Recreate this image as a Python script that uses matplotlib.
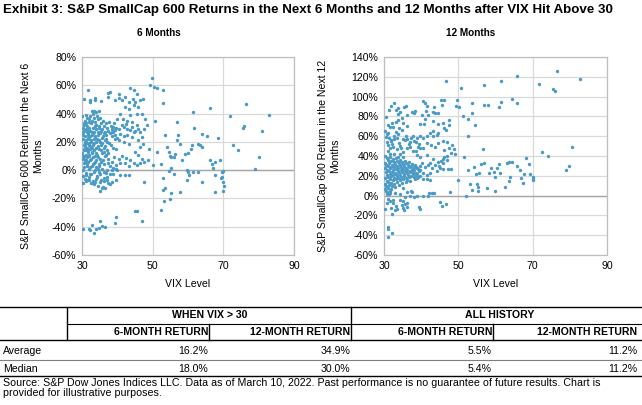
import numpy as np
import matplotlib
matplotlib.use("Agg")
import matplotlib.pyplot as plt
from matplotlib.lines import Line2D
from matplotlib.ticker import FuncFormatter

plt.rcParams['font.family'] = ['Liberation Sans', 'DejaVu Sans']

# ---- scatter data: (VIX level, forward return %) ----
six_pts = [
    # dense cluster, VIX 30-40
    (30.1, 38), (30.4, 30), (30.2, 25), (30.5, 18), (30.1, 12), (30.3, 8), (30.6, 5), (30.2, 0), (30.4, -4), (30.1, -9), (30.3, 22), (30.5, 15),
    (30.8, 35), (30.6, 28), (30.9, 20), (30.7, 14), (30.5, 10), (30.8, 6), (30.6, 2), (30.9, -6), (30.7, 32), (30.9, 24),
    (31.2, 39), (31.0, 33), (31.3, 27), (31.1, 21), (30.9, 17), (31.2, 11), (31.0, 7), (31.3, 3), (31.1, -2), (31.2, -8), (31.0, 29),
    (31.5, 37), (31.3, 31), (31.6, 25), (31.4, 19), (31.7, 13), (31.5, 9), (31.3, 4), (31.6, -7), (31.4, 16), (31.7, 23),
    (31.9, 36), (32.0, 30), (31.8, 26), (32.1, 22), (31.9, 18), (31.7, 14), (32.0, 10), (31.8, 6), (32.1, 1), (31.9, -5),
    (32.3, 38), (32.1, 34), (32.4, 28), (32.2, 24), (32.5, 20), (32.3, 15), (32.1, 11), (32.4, 7), (32.2, 2), (32.5, -9), (32.3, 17),
    (32.7, 42), (32.5, 33), (32.8, 27), (32.6, 21), (32.9, 16), (32.7, 12), (32.5, 8), (32.8, 3), (32.6, -3), (32.9, 25),
    (33.1, 40), (32.9, 35), (33.2, 30), (33.0, 26), (33.3, 22), (33.1, 18), (32.9, 13), (33.2, 9), (33.0, 4), (33.3, -1), (33.1, -8),
    (33.5, 42), (33.3, 37), (33.6, 31), (33.4, 27), (33.7, 23), (33.5, 19), (33.3, 14), (33.6, 10), (33.4, 5), (33.7, 0), (33.5, -10),
    (33.9, 41), (33.7, 34), (34.0, 29), (33.8, 24), (34.1, 20), (33.9, 16), (34.0, 12), (33.8, 6), (34.1, 2), (33.9, -6),
    (34.3, 38), (34.1, 32), (34.4, 27), (34.2, 22), (34.5, 17), (34.3, 11), (34.1, 7), (34.4, 1), (34.2, -4),
    (34.7, 42), (34.5, 36), (34.8, 30), (34.6, 25), (34.9, 21), (34.7, 15), (34.5, 9), (34.8, 4), (34.6, -11),
    (35.1, 37), (34.9, 31), (35.2, 26), (35.0, 20), (35.3, 14), (35.1, 8), (34.9, 3), (35.2, -3),
    (35.5, 33), (35.3, 28), (35.6, 23), (35.4, 18), (35.7, 12), (35.5, 6), (35.3, -7),
    (35.9, 35), (35.7, 29), (36.0, 24), (35.8, 19), (36.1, 13), (35.9, 7), (35.7, 1), (36.0, -12),
    (36.3, 31), (36.1, 26), (36.4, 21), (36.2, 16), (36.5, 10), (36.3, 4), (36.1, -8),
    (36.7, 33), (36.5, 27), (36.8, 22), (36.6, 17), (36.9, 11), (36.7, -2),
    (37.1, 30), (36.9, 25), (37.2, 20), (37.0, 14), (37.3, 8), (37.1, -5),
    (37.6, 34), (37.4, 28), (37.7, 19), (37.5, 12), (37.3, 5),
    (38.1, 31), (37.9, 26), (38.2, 18), (38.0, 3), (37.8, -10),
    (38.6, 29), (38.4, 24), (38.7, 16), (38.5, 6),
    (39.1, 33), (38.9, 27), (39.2, 22), (39.0, 9), (38.8, -3),
    (39.6, 30), (39.4, 25), (39.7, 15), (39.5, 1),
    (30.3, 27), (30.8, 19), (31.2, 14), (30.5, 33), (31.6, 28), (32.0, 19), (30.2, 10), (30.7, 8),
    # upper points, VIX 30-48
    (31.6, 57), (30.7, 50.6), (32.4, 48.2), (32.4, 49.4), (33.6, 51.3), (33.8, 49.4), (35.4, 48.9), (37.3, 54.6),
    (38.0, 55.3), (37.5, 51.8), (39.4, 49.4), (40.4, 53.6), (40.6, 51.3), (41.3, 49.9), (42.2, 51.8), (43.2, 48.2),
    (43.6, 58.4), (44.6, 56.5), (45.5, 54.1), (44.4, 50.6), (45.1, 48.2), (46.5, 49.9), (47.4, 50.6), (45.9, 44.7),
    (44.6, 45.9), (43.2, 43.5), (42.2, 44.7), (40.8, 40), (39.9, 36.5), (41.6, 36.5), (43.5, 38.8), (45.5, 40),
    (46.9, 40), (47.8, 36.5), (48.4, 31.8), (47.6, 29.4), (46.5, 27), (46.9, 23.5), (45.9, 21.2), (47.4, 18.8),
    (46.5, 16.5), (45.1, 12.9), (45.8, 10.6), (46.9, 8.2), (47.6, 5.9), (46.5, 4.7), (48.8, 7.5), (45.5, 3.5),
    (44.6, 5.4), (43.6, 7.1), (43.2, 3.1), (42.2, 4.7), (42.5, 8.9), (41.3, 10.1), (40.4, 8.2), (40.8, 5.4),
    (39.7, 3.5), (38.9, 1.2), (40.0, 0), (40.8, -3.5), (42.2, -3.5), (43.2, -3.5), (39.5, -7), (38.5, -8.2),
    (37.1, -7), (37.5, -9.4), (36.1, -5.9), (35.2, -8.2), (35.2, -14.6), (35.7, -12.9), (36.6, -12.9), (33.8, -8.2),
    (32.8, -9.4), (31.9, -7), (31.0, -7), (30.3, -9.4), (31.2, -3.5), (32.4, -2.4), (34.2, -4.7), (34.7, -1.2),
    (36.1, -1.2), (37.1, 0), (38.0, -2.4), (38.5, 0), (47.5, -8.7),
    (41.3, 31.8), (41.8, 30.6), (42.7, 29.4), (42.5, 32.9), (43.6, 28.2), (44.1, 30.6), (45.1, 27.8), (45.5, 31.8),
    (44.1, 23.5), (42.7, 24.7), (41.8, 24), (40.8, 25.9), (40.4, 29.4), (39.4, 28.2), (38.9, 30.6), (38.5, 27),
    (39.9, 22.4), (40.6, 21.2), (41.9, 20), (43.2, 18.8), (44.6, 27), (45.9, 29.4), (44.1, 34.1), (42.7, 34.8),
    # VIX above 48
    (49.8, 65.4), (49.3, 60), (50.4, 58.8), (51.2, 58), (52.8, 57), (52.8, 47.8), (50.8, 34.8), (51.2, 12.9),
    (50.0, 3.5), (49.1, 15.3), (52.5, 4.5), (53.5, 24.7), (54.0, 16.5), (54.5, 13), (55.0, 10), (55.2, 9.4),
    (56.0, 9.4), (56.3, 11.3), (56.8, 21.6), (57.3, 24.7), (57.0, 34), (57.7, 18.8), (58.3, 7.5), (59.2, 11.3),
    (60.1, 12.2), (60.8, 14.6), (61.0, 17.6), (61.5, 41.4), (61.8, 30.1), (62.7, 18.4), (63.4, 17.6), (64.0, 25.9),
    (65.5, 24.2), (66.1, 44.2), (64.0, 16.5), (60.1, -1.2), (59.7, 0), (61.5, -1.2), (62.9, -1.6),
    (60.3, -3.5), (59.8, -7), (64.0, -8.5), (66.3, 7), (66.7, 4.2), (67.0, 1.2), (67.7, 5.9), (69.0, 7.5),
    (68.5, 22.8), (67.7, -3.5), (67.7, -15.8), (69.5, -4.7), (69.7, -1.2), (70.0, -0.5), (69.8, -8.2), (70.0, -14.6),
    (70.2, -11.3), (69.3, -5.9), (71.9, 38.1), (72.7, 18.1), (74.2, 13.9), (75.5, 29.6), (75.9, 31), (76.4, 47),
    (80.2, 9.4), (79.1, 0.5), (81.0, 27.5), (82.8, 39.3),
    (52.3, -28.5), (53.2, -21.9), (53.5, -12.5), (53.0, -14.1), (55.0, -20.5), (55.2, -16), (57.6, -15.8),
    (53.0, -5.9), (55.2, 1.2), (56.0, -2.4), (54.5, -0.9),
    # the low band
    (45.1, -28.7), (45.6, -29.2), (46.9, -36), (39.5, -33.4), (39.3, -37.2), (35.2, -36), (35.7, -39.3), (36.4, -40),
    (34.7, -41.2), (34.0, -41.9), (33.3, -44.7), (32.8, -38.8), (31.9, -41.9), (32.4, -42.4), (30.4, -41.9),
]

twelve_pts = [
    # dense cluster, VIX 30-40
    (30.2, 40), (30.4, 33), (30.3, 28), (30.5, 24), (30.2, 18), (30.4, 12), (30.3, 7),
    (30.8, 38), (30.6, 31), (30.9, 26), (30.7, 21), (30.8, 15), (30.6, 10), (30.9, 4),
    (31.2, 36), (31.0, 30), (31.3, 25), (31.1, 19), (31.2, 14), (31.0, 8), (31.3, 2),
    (31.6, 39), (31.4, 33), (31.7, 28), (31.5, 22), (31.6, 17), (31.4, 11), (31.7, 5),
    (32.0, 35), (31.8, 29), (32.1, 24), (31.9, 20), (32.0, 13), (31.8, 7),
    (32.4, 37), (32.2, 31), (32.5, 26), (32.3, 21), (32.4, 16), (32.2, 10),
    (32.8, 34), (32.6, 29), (32.9, 23), (32.7, 18), (32.8, 12),
    (33.2, 38), (33.0, 32), (33.3, 27), (33.1, 22), (33.2, 17), (33.0, 9),
    (33.6, 35), (33.4, 30), (33.7, 25), (33.5, 20), (33.6, 14),
    (34.0, 33), (33.8, 28), (34.1, 23), (33.9, 18), (34.0, 11),
    (34.4, 36), (34.2, 31), (34.5, 26), (34.3, 21), (34.4, 16),
    (34.8, 34), (34.6, 29), (34.9, 24), (34.7, 19), (34.8, 13),
    (35.2, 32), (35.0, 27), (35.3, 22), (35.1, 17), (35.2, 8),
    (35.6, 35), (35.4, 30), (35.7, 25), (35.5, 20),
    (36.0, 33), (35.8, 28), (36.1, 23), (35.9, 18), (36.0, 14),
    (36.4, 31), (36.2, 26), (36.5, 21), (36.3, 16),
    (36.8, 34), (36.6, 29), (36.9, 24), (36.7, 19),
    (37.2, 30), (37.0, 25), (37.3, 20), (37.1, 15),
    (37.6, 32), (37.4, 27), (37.7, 22),
    (38.0, 29), (37.8, 24), (38.1, 19),
    (38.4, 31), (38.2, 26), (38.5, 21), (38.3, 17),
    (38.8, 28), (38.6, 23), (38.9, 18),
    (39.2, 27), (39.0, 22),
    (39.6, 30), (39.4, 25), (39.7, 20),
    # upper band, VIX 30-40
    (31.0, 45), (31.5, 42), (32.0, 55), (32.8, 57), (33.5, 58), (34.0, 53), (34.6, 48), (35.2, 57), (36.0, 60),
    (36.6, 52), (37.3, 58), (38.0, 55), (38.8, 58), (39.4, 52), (39.8, 48), (38.5, 45), (30.4, 65), (30.8, 62), (31.4, 58),
    (32.7, 93.8), (31.9, 91), (31.3, 86.4), (30.5, 79), (33.2, 86.4), (33.9, 88), (33.7, 82.4), (34.3, 84.7),
    (35.5, 89.7), (35.9, 90.4), (37.5, 84.7), (38.1, 83.7), (38.4, 85.7), (36.1, 81.3), (34.8, 78), (33.9, 76.3),
    (33.2, 74.6), (32.1, 73.6), (32.3, 69.6), (31.6, 68.9), (31.2, 71.3), (35.0, 73.6), (36.1, 70.3), (34.1, 67.9),
    (34.8, 66.2), (33.2, 64.5), (33.9, 62.2), (32.7, 60.5), (31.2, 63.5), (30.5, 59.5), (31.8, 56.1), (30.7, 54.5),
    (31.2, 51.1), (32.1, 52.1), (31.6, 47.7), (32.5, 49.4), (33.4, 46.7), (34.3, 50.1), (35.7, 56.1), (36.3, 56.8),
    (37.0, 54.5), (37.9, 60.2), (36.1, 47.7), (37.0, 49.4), (37.7, 45.4), (35.0, 44.4), (34.3, 42), (32.7, 42),
    (33.9, 39.3), (35.0, 38.6),
    # negative side, VIX 30-42
    (31.2, -3.7), (31.6, -5), (32.3, -4.4), (32.5, -7.7), (30.7, -7.7), (31.9, -12.1), (30.3, -13.8), (33.0, -14.5),
    (33.6, -13.8), (33.2, -10.4), (34.3, -4.4), (35.0, -5.4), (35.6, -8.4), (35.2, -12.8), (36.1, -11.1), (36.3, -7),
    (35.3, -14.5), (34.8, -9.4), (32.2, -18.5), (31.2, -31.3), (31.2, -34), (31.2, -42), (32.2, -38), (39.5, -11.8),
    (39.8, -13.8), (37.0, -0.3), (35.6, -1), (38.0, -1), (38.9, -0.3), (40.6, -0.3), (41.9, -0.3), (34.3, 1.7),
    (36.3, 4), (37.2, 5), (37.5, 4), (33.0, 2.4), (31.6, 3), (30.5, 5), (30.9, 1.3),
    # VIX 38-50
    (46.2, 96.5), (45.3, 96.5), (45.6, 92), (43.5, 89.7), (43.1, 84.7), (43.7, 83), (44.4, 83.7), (40.4, 95.8),
    (41.0, 93.8), (41.7, 90.4), (41.3, 85.7), (41.9, 81.3), (41.1, 77), (40.8, 72.3), (40.2, 81.3), (39.7, 72.3),
    (43.3, 75.6), (44.6, 72.3), (45.8, 73.6), (47.6, 76.3), (47.4, 71.3), (46.7, 66.2), (46.2, 67.9), (43.3, 65.5),
    (44.2, 61.2), (43.3, 59.7), (44.6, 62.9), (42.4, 62.9), (41.5, 60.5), (40.4, 57.8), (39.7, 60.5), (38.6, 54.5),
    (39.2, 49.4), (40.6, 47.7), (41.5, 52.8), (42.6, 51.1), (43.8, 49.4), (44.6, 52.8), (45.8, 55.5), (46.9, 54.5),
    (48.2, 51.1), (48.7, 46.7), (49.1, 42), (47.5, 47.7), (46.2, 46), (47.9, 42.7),
    (46.2, 39.3), (46.9, 40), (46.0, 36.6), (45.3, 35.3), (44.4, 34.3), (43.3, 36.6), (42.4, 33.3), (43.8, 30.9),
    (44.9, 30.3), (45.8, 32.6), (46.9, 36), (47.3, 26.9), (48.0, 26.9), (46.0, 26.6), (45.1, 27.6), (44.2, 25.2),
    (42.8, 27.6), (41.9, 30.9), (41.0, 29.2), (40.2, 32.6), (39.7, 25.9), (40.6, 22.5), (41.5, 20.8), (42.4, 22.5),
    (40.6, 16.5), (41.7, 16.5), (42.4, 15.8), (39.1, 19.2), (39.7, 39.3), (41.5, 41), (38.8, 41), (38.6, 29.2),
    (37.9, 25.9), (47.8, 3.4), (45.1, -6), (45.5, -10), (46.7, -8.4), (43.4, 2.4), (42.9, 2.4), (42.0, 2.4),
    # VIX above 49
    (76.5, 125.4), (82.7, 118), (71.8, 113), (75.4, 108), (76.0, 106), (65.9, 121), (61.6, 116), (57.0, 111.6),
    (50.8, 109), (46.8, 116), (64.4, 98), (65.8, 94), (61.6, 95), (61.0, 90), (57.0, 92), (57.9, 92),
    (49.6, 96.5), (49.5, 90.5), (50.2, 89.7), (53.6, 93.4), (53.7, 83), (51.2, 80.3), (52.7, 77.3), (54.6, 70.9),
    (52.6, 59.7), (56.7, 46.7), (51.4, 39.3), (52.6, 25.9), (53.1, 11.4), (53.7, 5.7), (55.2, 5), (54.3, 29.2),
    (54.8, 21.8), (55.5, 22.5), (55.0, 11.4), (55.2, 9), (56.0, 31.9), (56.8, 32.6), (57.7, 8), (58.2, 22.5),
    (58.8, 27.6), (59.5, 23.5), (59.9, 18.5), (59.9, 4.4), (60.5, 28.2), (61.0, 31.9), (61.2, 22.5), (63.0, 32.6),
    (63.5, 34.3), (64.4, 33.6), (63.9, 19.2), (63.5, 15.1), (62.6, 9), (65.9, 30.3), (66.7, 25.9), (66.8, 17.5),
    (67.5, 13.1), (67.7, 21.8), (68.3, 37.6), (69.1, 31.6), (69.4, 21.8), (70.0, 19.2), (70.2, 15.8), (70.1, 17.1),
    (72.6, 43.7), (74.2, 40), (79.0, 25.9), (79.9, 29.9), (80.7, 48.7), (49.8, 15.8), (52.1, -0.3),
]

six_vix, six_ret = np.array(six_pts).T
twelve_vix, twelve_ret = np.array(twelve_pts).T

# ---- table values ----
group_labels = ['WHEN VIX > 30', 'ALL HISTORY']
col_labels = ['6-MONTH RETURN', '12-MONTH RETURN', '6-MONTH RETURN', '12-MONTH RETURN']
row_labels = ['Average', 'Median']
table_vals = [['16.2%', '34.9%', '5.5%', '11.2%'],
              ['18.0%', '30.0%', '5.4%', '11.2%']]

W, H = 642, 405
fig = plt.figure(figsize=(W / 100, H / 100), dpi=100)

def fx(x):
    return x / W

def fy(y):
    return 1 - y / H

dot = '#4a9ac6'
grid_c = '#d9d9d9'
narrow = ['Liberation Sans Narrow', 'Liberation Sans', 'DejaVu Sans']

def style(ax, ylim, yticks):
    ax.set_xlim(30, 90)
    ax.set_xticks([30, 50, 70, 90])
    ax.set_ylim(*ylim)
    ax.set_yticks(yticks)
    ax.yaxis.set_major_formatter(FuncFormatter(lambda v, p: '%d%%' % v))
    ax.grid(True, color=grid_c, lw=0.9)
    ax.set_axisbelow(True)
    for s in ax.spines.values():
        s.set_color('#bfbfbf')
        s.set_linewidth(0.9)
    ax.axhline(0, color='#a6a6a6', lw=1.0, zorder=1)
    ax.tick_params(length=0, labelsize=7.6, colors='#000000', pad=4)
    ax.set_xlabel('VIX Level', fontsize=7.6, labelpad=6)

ax1 = fig.add_axes([fx(82), fy(255), fx(212), 198 / H])
ax1.scatter(six_vix, six_ret, s=6, color=dot, marker='o', linewidths=0, zorder=3)
style(ax1, (-60, 80), range(-60, 81, 20))

ax2 = fig.add_axes([fx(384), fy(255), fx(223), 198 / H])
ax2.scatter(twelve_vix, twelve_ret, s=6, color=dot, marker='o', linewidths=0, zorder=3)
style(ax2, (-60, 140), range(-60, 141, 20))

fig.text(fx(32), fy(156), 'S&P SmallCap 600 Return in the Next 6\nMonths', rotation=90,
         ha='center', va='center', fontsize=7.6, linespacing=1.2)
fig.text(fx(329), fy(156), 'S&P SmallCap 600 Return in the Next 12\nMonths', rotation=90,
         ha='center', va='center', fontsize=7.6, linespacing=1.2)

fig.text(fx(159), fy(33), '6 Months', ha='center', va='center', fontsize=7.2, fontweight='bold')
fig.text(fx(471), fy(33), '12 Months', ha='center', va='center', fontsize=7.2, fontweight='bold')

fig.text(fx(3), fy(10.5), 'Exhibit 3: S&P SmallCap 600 Returns in the Next 6 Months and 12 Months after VIX Hit Above 30',
         ha='left', va='center', fontsize=9.6, fontweight='bold')

# ---- table ----
def hline(y, x0, x1, color='black', lw=1.0):
    fig.add_artist(Line2D([fx(x0), fx(x1)], [fy(y), fy(y)], color=color, lw=lw))

def vline(x, y0, y1, lw=1.0):
    fig.add_artist(Line2D([fx(x), fx(x)], [fy(y0), fy(y1)], color='black', lw=lw))

hline(307, 0, 642)
hline(323.5, 67, 642, lw=0.8)
hline(340, 0, 642)
hline(359.5, 0, 642, color='#7f7f7f', lw=0.8)
hline(376, 0, 642)
vline(67, 307, 340)
vline(351, 307, 340)
vline(209, 323.5, 340)
vline(493, 323.5, 340)

fig.text(fx(210), fy(315), group_labels[0], ha='center', va='center', fontsize=7.6,
         fontweight='bold', family=narrow)
fig.text(fx(500), fy(315), group_labels[1], ha='center', va='center', fontsize=7.6,
         fontweight='bold', family=narrow)

col_right = [208, 350, 492, 637]
for xr, lab in zip(col_right, col_labels):
    fig.text(fx(xr), fy(332), lab, ha='right', va='center', fontsize=7.6,
             fontweight='bold', family=narrow)

row_y = [351.5, 368.5]
for yy, lab, vals in zip(row_y, row_labels, table_vals):
    fig.text(fx(3), fy(yy), lab, ha='left', va='center', fontsize=7.6, family=narrow)
    for xr, v in zip(col_right, vals):
        fig.text(fx(xr), fy(yy), v, ha='right', va='center', fontsize=7.6, family=narrow)

fig.text(fx(3), fy(382.5), 'Source: S&P Dow Jones Indices LLC. Data as of March 10, 2022. Past performance is no guarantee of future results. Chart is',
         ha='left', va='center', fontsize=7.7)
fig.text(fx(3), fy(393.5), 'provided for illustrative purposes.', ha='left', va='center', fontsize=7.7)

fig.savefig('out.png', dpi=100)
